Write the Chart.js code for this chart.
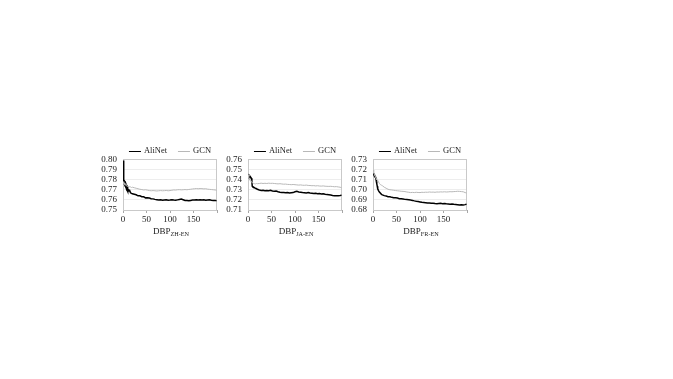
<!DOCTYPE html>
<html>
<head>
<meta charset="utf-8">
<script src="https://cdn.jsdelivr.net/npm/chart.js@4.4.1/dist/chart.umd.min.js"></script>
<style>
  html, body { margin: 0; padding: 0; background: #fff; }
  #wrap { position: relative; width: 673px; height: 379px; overflow: hidden; background: #fff; }
  canvas { position: absolute; }
  .legend { position: absolute; top: 145px; height: 10px; transform: translateX(-50%); white-space: nowrap;
            font-family: "Liberation Serif", "Times New Roman", serif; font-size: 8.5px; line-height: 10px; color: #222; }
  .legend .sw { display: inline-block; width: 12px; height: 0; vertical-align: middle; margin-right: 3px; }
  .legend .item { display: inline-block; }
  .legend .item + .item { margin-left: 11px; }
  .title { position: absolute; top: 225px; transform: translateX(-50%); white-space: nowrap;
           font-family: "Liberation Serif", "Times New Roman", serif; font-size: 9px; line-height: 12px; color: #222; }
  .title sub { font-size: 6.2px; vertical-align: -2px; line-height: 0; }
</style>
</head>
<body>
<div id="wrap"></div>
<script>
// ---- data ----
const seriesNames = ["AliNet", "GCN"];
const panelNames = ["ZH-EN", "JA-EN", "FR-EN"];
const xValues = [0,1,2,3,4,5,6,7,8,9,10,12,14,16,18,20,24,28,32,36,40,44,48,52,56,60,64,68,72,76,80,84,88,92,96,100,104,108,112,116,120,124,128,132,136,140,144,148,152,156,160,164,168,172,176,180,184,188,192,196,199];
const xTicks = [0, 50, 100, 150, 200];

const zhAliNet = [0.799,0.779,0.777,0.778,0.776,0.777,0.775,0.774,0.772,0.773,0.771,
  0.769,0.7695,0.767,0.7665,0.766,
  0.7655,0.765,0.764,0.764,0.7632,0.763,0.762,0.7622,0.7618,0.7612,
  0.761,0.7605,0.7602,0.7598,0.760,0.7596,0.7598,0.760,0.7597,0.7598,
  0.7601,0.7598,0.7596,0.760,0.7604,0.7608,0.7602,0.7595,0.7594,0.7592,
  0.7595,0.7598,0.760,0.7601,0.7599,0.7602,0.7598,0.760,0.7596,0.7598,
  0.760,0.7596,0.7594,0.7595,
  0.7592];
const zhGCN = [0.778,0.777,0.776,0.7765,0.775,0.775,0.7745,0.774,0.774,0.7735,0.7735,
  0.773,0.773,0.7728,0.7722,0.7725,
  0.772,0.7715,0.771,0.7705,0.7702,0.7698,0.770,0.7696,0.7692,0.769,
  0.7692,0.769,0.7688,0.769,0.7692,0.769,0.7691,0.7693,0.769,0.7692,
  0.7695,0.7698,0.7697,0.770,0.7701,0.7699,0.770,0.7702,0.770,0.7703,
  0.7705,0.7708,0.771,0.7712,0.771,0.7712,0.7711,0.7709,0.771,0.7706,
  0.7704,0.7702,0.770,0.7698,
  0.7695];
const jaAliNet = [0.7455,0.744,0.7435,0.743,0.7425,0.742,0.7422,0.7415,0.7405,0.7335,0.733,
  0.7325,0.7318,0.7315,0.731,0.7305,
  0.7298,0.7292,0.7295,0.729,0.7292,0.729,0.7294,0.7288,0.7285,0.7288,
  0.728,0.7276,0.7274,0.7272,0.727,0.7272,0.7268,0.727,0.7272,0.728,
  0.7284,0.7278,0.7275,0.7272,0.727,0.7268,0.7272,0.7268,0.7265,0.7262,
  0.7265,0.726,0.7262,0.7258,0.726,0.7255,0.7252,0.725,0.7248,0.7244,
  0.7242,0.724,0.7242,0.7244,
  0.7246];
const jaGCN = [0.745,0.743,0.742,0.741,0.740,0.739,0.7385,0.738,0.7375,0.737,0.7368,
  0.7362,0.736,0.7358,0.7362,0.736,
  0.7362,0.7365,0.7362,0.7364,0.7362,0.7365,0.7363,0.7364,0.7362,0.736,
  0.7358,0.736,0.7357,0.7355,0.7356,0.7353,0.7352,0.735,0.7352,0.735,
  0.7348,0.7346,0.7348,0.7345,0.7344,0.7346,0.7343,0.7342,0.734,0.7341,
  0.7338,0.734,0.7337,0.7336,0.7338,0.7335,0.7334,0.7333,0.7334,0.7332,
  0.733,0.7331,0.7328,0.7325,
  0.732];
const frAliNet = [0.7165,0.7155,0.715,0.7145,0.7135,0.7125,0.712,0.7085,0.706,0.7035,0.701,
  0.699,0.6975,0.6965,0.6955,0.695,
  0.6942,0.6938,0.6932,0.693,0.6925,0.6922,0.692,0.6918,0.6912,0.691,
  0.6908,0.6905,0.6904,0.6902,0.6898,0.6895,0.689,0.6886,0.6883,0.688,
  0.6876,0.6874,0.6872,0.687,0.6868,0.6866,0.6867,0.6864,0.6862,0.6864,
  0.6866,0.6863,0.6865,0.6862,0.686,0.6858,0.6859,0.6856,0.6854,0.6852,
  0.685,0.6852,0.685,0.6853,
  0.6858];
const frGCN = [0.7195,0.718,0.7165,0.715,0.714,0.713,0.712,0.711,0.710,0.7095,0.709,
  0.7075,0.706,0.705,0.7045,0.704,
  0.7025,0.7015,0.7005,0.700,0.6998,0.6995,0.6992,0.699,0.6988,0.6985,
  0.6984,0.6982,0.6978,0.6975,0.6972,0.6974,0.6972,0.6975,0.6973,0.6972,
  0.6975,0.6974,0.6976,0.6975,0.6978,0.6976,0.6977,0.6975,0.6978,0.6977,
  0.6979,0.6978,0.698,0.6978,0.6979,0.6981,0.698,0.6982,0.6983,0.6985,
  0.6984,0.6982,0.698,0.6972,
  0.6968];

const zhTicks = [0.75, 0.76, 0.77, 0.78, 0.79, 0.80];
const jaTicks = [0.71, 0.72, 0.73, 0.74, 0.75, 0.76];
const frTicks = [0.68, 0.69, 0.70, 0.71, 0.72, 0.73];

// ---- styles ----
const FONT = '"Liberation Serif", "Times New Roman", serif';
const seriesColors = ["#000000", "#b8b8b8"];
const seriesWidths = [1.5, 1];

const panels = [
  { name: panelNames[0], a: zhAliNet, g: zhGCN, ticks: zhTicks },
  { name: panelNames[1], a: jaAliNet, g: jaGCN, ticks: jaTicks },
  { name: panelNames[2], a: frAliNet, g: frGCN, ticks: frTicks }
];

const boxPlugin = {
  id: 'box',
  beforeDatasetsDraw(chart) {
    const a = chart.chartArea, ctx = chart.ctx;
    ctx.save();
    ctx.strokeStyle = '#c9c9c9';
    ctx.lineWidth = 1;
    ctx.strokeRect(Math.round(a.left) + 0.5, Math.round(a.top) + 0.5,
                   Math.round(a.right - a.left) - 1, Math.round(a.bottom - a.top));
    ctx.restore();
  }
};

const wrap = document.getElementById('wrap');
const STEP = 125;
panels.forEach((p, i) => {
  const cv = document.createElement('canvas');
  cv.width = 144; cv.height = 78;
  cv.style.left = (98 + STEP * i) + 'px';
  cv.style.top = '148px';
  cv.style.width = '144px'; cv.style.height = '78px';
  wrap.appendChild(cv);

  const toPts = arr => xValues.map((x, k) => ({ x: x, y: arr[k] }));
  new Chart(cv, {
    type: 'line',
    data: {
      datasets: [
        { label: seriesNames[1], data: toPts(p.g), borderColor: seriesColors[1], borderWidth: seriesWidths[1],
          pointRadius: 0, tension: 0, fill: false },
        { label: seriesNames[0], data: toPts(p.a), borderColor: seriesColors[0], borderWidth: seriesWidths[0],
          pointRadius: 0, tension: 0, fill: false }
      ]
    },
    options: {
      responsive: false,
      animation: false,
      devicePixelRatio: 1,
      layout: { padding: { top: 10, right: 25, left: 0, bottom: 0 } },
      plugins: { legend: { display: false }, tooltip: { enabled: false } },
      scales: {
        x: {
          type: 'linear', min: 0, max: 200,
          afterBuildTicks: s => { s.ticks = xTicks.map(v => ({ value: v })); },
          afterFit: s => { s.height = 16; },
          grid: { drawOnChartArea: false, drawTicks: true, tickLength: 3, color: '#a6a6a6' },
          border: { color: '#a6a6a6', width: 1 },
          ticks: { padding: 1, maxRotation: 0, autoSkip: false, color: '#222',
                   font: { family: FONT, size: 9 },
                   callback: v => (v === 200 ? '' : String(v)) }
        },
        y: {
          min: p.ticks[0], max: p.ticks[p.ticks.length - 1],
          afterBuildTicks: s => { s.ticks = p.ticks.map(v => ({ value: v })); },
          afterFit: s => { s.width = 25; },
          grid: { drawTicks: false, color: '#ededed', lineWidth: 1 },
          border: { color: '#c9c9c9', width: 1 },
          ticks: { padding: 6, autoSkip: false, color: '#222', font: { family: FONT, size: 9 },
                   callback: v => Number(v).toFixed(2) }
        }
      }
    },
    plugins: [boxPlugin]
  });

  const cx = 170 + STEP * i;
  const lg = document.createElement('div');
  lg.className = 'legend';
  lg.style.left = cx + 'px';
  lg.innerHTML =
    '<span class="item"><span class="sw" style="border-top:1.5px solid ' + seriesColors[0] + '"></span>' + seriesNames[0] + '</span>' +
    '<span class="item"><span class="sw" style="border-top:1px solid ' + seriesColors[1] + '"></span>' + seriesNames[1] + '</span>';
  wrap.appendChild(lg);

  const tt = document.createElement('div');
  tt.className = 'title';
  tt.style.left = (cx + 1) + 'px';
  tt.innerHTML = 'DBP<sub>' + p.name + '</sub>';
  wrap.appendChild(tt);
});
</script>
</body>
</html>
